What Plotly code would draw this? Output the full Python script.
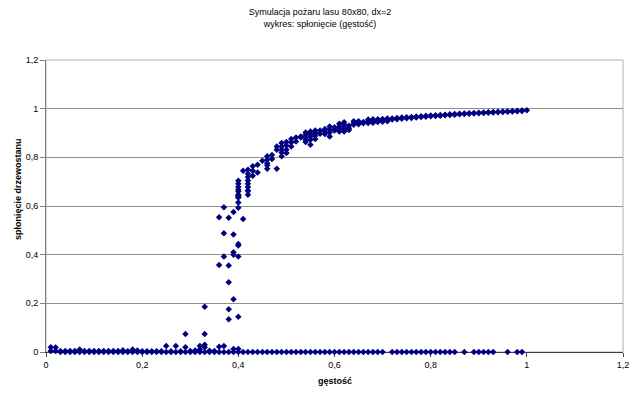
import plotly.graph_objects as go

# ---- data ----
densities = [round(0.01 * i, 2) for i in range(1, 101)]

burned = [
    [0.02, 0.004],            # 0.01
    [0.018, 0.004],           # 0.02
    [0.004, 0], [0.004, 0], [0.004, 0], [0.004, 0],   # 0.03-0.06
    [0.01, 0],                # 0.07
    [0.004, 0], [0.004, 0], [0.004, 0], [0.004, 0], [0.004, 0],  # 0.08-0.12
    [0.004, 0], [0.004, 0], [0.004, 0],               # 0.13-0.15
    [0.007, 0],               # 0.16
    [0.003, 0],               # 0.17
    [0.01, 0],                # 0.18
    [0.006, 0],               # 0.19
    [0.003, 0], [0.003, 0], [0.003, 0], [0.003, 0], [0.003, 0],  # 0.20-0.24
    [0.025, 0],               # 0.25
    [0.003, 0],               # 0.26
    [0.025, 0],               # 0.27
    [0.003, 0],               # 0.28
    [0.074, 0.02, 0],         # 0.29
    [0.004, 0],               # 0.30
    [0.006, 0],               # 0.31
    [0.025, 0.01, 0],         # 0.32
    [0.186, 0.074, 0.03, 0.02, 0],   # 0.33
    [0.005, 0],               # 0.34
    [0.004, 0],               # 0.35
    [0.554, 0.358, 0.022, 0],        # 0.36
    [0.595, 0.488, 0.392, 0.025, 0], # 0.37
    [0.552, 0.355, 0.287, 0.176, 0.135, 0],  # 0.38
    [0.575, 0.483, 0.41, 0.40, 0.217, 0.012, 0],  # 0.39
    [0.704, 0.691, 0.678, 0.667, 0.66, 0.646, 0.643, 0.637, 0.635,
     0.614, 0.593, 0.444, 0.438, 0.392, 0.145, 0.012, 0],  # 0.40
    [0.745, 0.547, 0],        # 0.41
    [0.749, 0.733, 0.719, 0.705, 0.691, 0.678, 0.664, 0.662, 0.646, 0],  # 0.42
    [0.763, 0.745, 0.724, 0],  # 0.43
    [0.77, 0.738, 0],          # 0.44
    [0.786, 0],                # 0.45
    [0.804, 0.79, 0.776, 0.767, 0.753, 0],  # 0.46
    [0.81, 0.793, 0],          # 0.47
    [0.845, 0.831, 0.753, 0],  # 0.48
    [0.859, 0.845, 0.831, 0.82, 0.804, 0],  # 0.49
    [0.863, 0.849, 0.831, 0.818, 0],  # 0.50
    [0.875, 0.861, 0.845, 0],  # 0.51
    [0.882, 0.865, 0],         # 0.52
    [0.886, 0.882, 0],         # 0.53
    [0.902, 0.893, 0.883, 0.872, 0.863, 0],  # 0.54
    [0.906, 0.896, 0.886, 0.872, 0.852, 0],  # 0.55
    [0.91, 0.9, 0.889, 0.875, 0],   # 0.56
    [0.91, 0.897, 0],          # 0.57
    [0.916, 0.906, 0.896, 0],  # 0.58
    [0.927, 0.914, 0.902, 0.886, 0],  # 0.59
    [0.924, 0.914, 0.91, 0],   # 0.60
    [0.938, 0.927, 0.916, 0.906, 0],  # 0.61
    [0.944, 0.935, 0.925, 0.916, 0.906, 0],  # 0.62
    [0.93, 0.92, 0.912, 0],    # 0.63
    [0.948, 0.94, 0.934, 0],   # 0.64
    [0.948, 0.942, 0.936, 0],  # 0.65
    [0.945, 0.94, 0],          # 0.66
    [0.955, 0.948, 0.941, 0],  # 0.67
    [0.956, 0.95, 0.942, 0],   # 0.68
    [0.957, 0.951, 0.945, 0],  # 0.69
    [0.958, 0.952, 0.946, 0],  # 0.70
    [0.96, 0.953, 0.948],      # 0.71
    [0.96, 0.955, 0],          # 0.72
    [0.962, 0.957, 0],         # 0.73
    [0.964, 0.959, 0],         # 0.74
    [0.965, 0.961, 0],         # 0.75
    [0.966, 0.962, 0],         # 0.76
    [0.968, 0.964, 0],         # 0.77
    [0.969, 0.966, 0],         # 0.78
    [0.971, 0.967, 0],         # 0.79
    [0.972, 0.969, 0],         # 0.80
    [0.973, 0.97, 0],          # 0.81
    [0.974, 0.971, 0],         # 0.82
    [0.975, 0.973, 0],         # 0.83
    [0.977, 0.974, 0],         # 0.84
    [0.978, 0.975, 0],         # 0.85
    [0.979, 0.977],            # 0.86
    [0.98, 0.978, 0],          # 0.87
    [0.981, 0.979],            # 0.88
    [0.982, 0.98, 0],          # 0.89
    [0.983, 0.981, 0],         # 0.90
    [0.984, 0.982, 0],         # 0.91
    [0.985, 0.983, 0],         # 0.92
    [0.986, 0.984, 0],         # 0.93
    [0.987, 0.985],            # 0.94
    [0.988, 0.986],            # 0.95
    [0.989, 0.987, 0],         # 0.96
    [0.99, 0.988],             # 0.97
    [0.991, 0.989, 0],         # 0.98
    [0.992, 0.99, 0],          # 0.99
    [0.993],                   # 1.00
]

tick_vals = [0, 0.2, 0.4, 0.6, 0.8, 1.0, 1.2]
tick_text = ["0", "0,2", "0,4", "0,6", "0,8", "1", "1,2"]

title_text = "Symulacja pożaru lasu 80x80, dx=2<br>wykres: spłonięcie (gęstość)"
x_title = "gęstość"
y_title = "spłonięcie drzewostanu"

# ---- flatten ----
xs, ys = [], []
for d, vals in zip(densities, burned):
    for v in vals:
        xs.append(d)
        ys.append(v)

FONT = "Liberation Sans, Arial, sans-serif"

fig = go.Figure()
fig.add_trace(go.Scatter(
    x=xs, y=ys, mode="markers",
    marker=dict(symbol="diamond", size=5, color="#000080",
                line=dict(width=0)),
    cliponaxis=False, showlegend=False, hoverinfo="x+y",
))

W, H = 640, 399
L, R, T, B = 46, 17, 60, 47

fig.update_layout(
    width=W, height=H,
    margin=dict(l=L, r=R, t=T, b=B, autoexpand=False),
    paper_bgcolor="white", plot_bgcolor="white",
    font=dict(family=FONT, size=9, color="#000000"),
    title=dict(text=title_text, x=0.5, xref="container", xanchor="center",
               y=1 - 15 / H, yref="container", yanchor="top",
               font=dict(family=FONT, size=9, color="#000000")),
    xaxis=dict(range=[0, 1.2], tickvals=tick_vals, ticktext=tick_text,
               showgrid=False, zeroline=False, automargin=False,
               showline=True, linecolor="#404040", linewidth=1,
               ticks="outside", ticklen=4, tickcolor="#404040",
               tickfont=dict(family=FONT, size=9, color="#000000"),
               layer="below traces", fixedrange=True),
    yaxis=dict(range=[0, 1.2], tickvals=tick_vals, ticktext=tick_text,
               showgrid=True, gridcolor="#909090", gridwidth=1,
               zeroline=False, automargin=False,
               showline=True, linecolor="#808080", linewidth=1,
               ticks="outside", ticklen=5, tickcolor="#808080",
               tickfont=dict(family=FONT, size=9, color="#000000"),
               layer="below traces", fixedrange=True),
    shapes=[dict(type="rect", xref="x domain", yref="y domain",
                 x0=0, x1=1, y0=0, y1=1,
                 line=dict(color="#b0b0b0", width=1), layer="below")],
    annotations=[
        dict(text="<b>" + x_title + "</b>", xref="paper", yref="paper",
             x=0.5, y=-(381 - 352) / (H - T - B), xanchor="center",
             yanchor="middle", showarrow=False,
             font=dict(family=FONT, size=9, color="#000000")),
        dict(text="<b>" + y_title + "</b>", xref="paper", yref="paper",
             x=-(L - 18) / (W - L - R), y=(352 - 189) / (H - T - B),
             xanchor="center", yanchor="middle", textangle=-90,
             showarrow=False,
             font=dict(family=FONT, size=9, color="#000000")),
    ],
)

fig.write_html(
    "out.html",
    config={"displayModeBar": False, "staticPlot": True},
    post_script="document.body.style.margin='0';document.body.style.padding='0';"
                "document.body.style.overflow='hidden';",
)
